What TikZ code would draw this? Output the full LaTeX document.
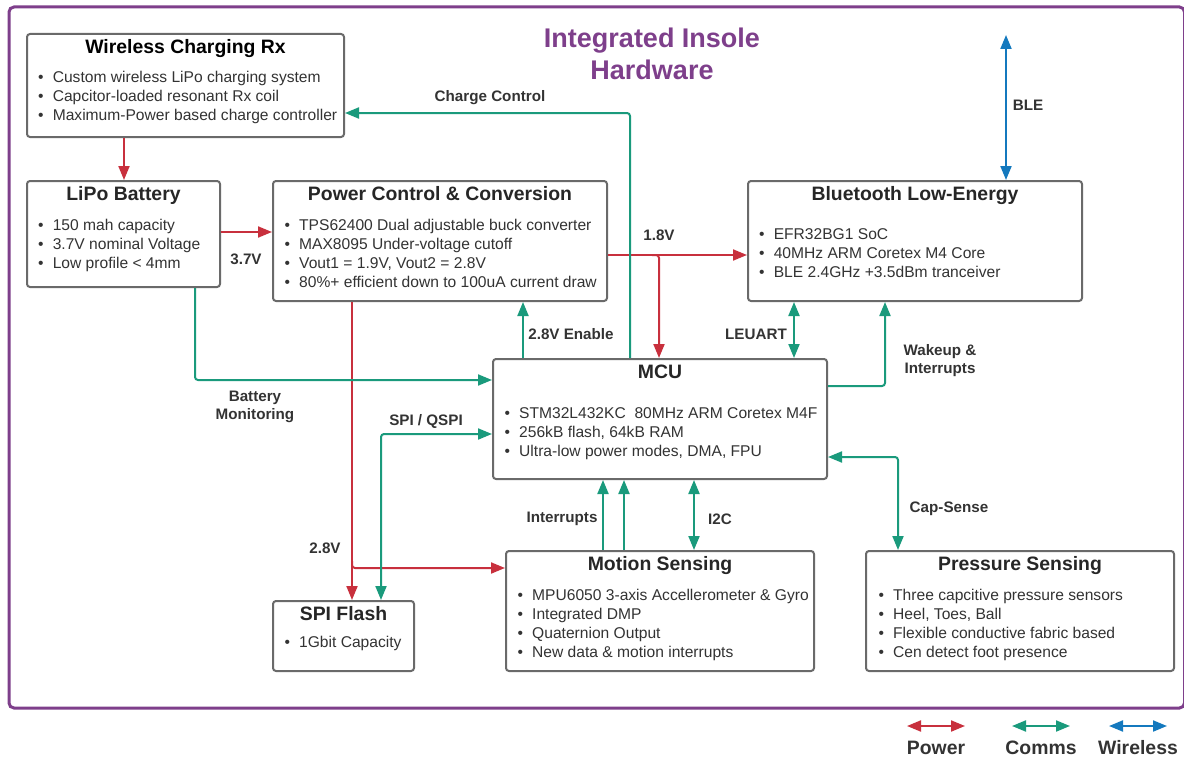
\documentclass[tikz,border=0pt]{standalone}
\usepackage{fontspec}
\setmainfont{Liberation Sans}
\usetikzlibrary{arrows.meta}
\definecolor{pur}{HTML}{7E3F8B}
\definecolor{pred}{HTML}{C8303D}
\definecolor{pgrn}{HTML}{1A9A7C}
\definecolor{pblu}{HTML}{1479BE}
\definecolor{bgray}{HTML}{6A6A6A}
\definecolor{txt}{HTML}{333333}
\definecolor{ttxt}{HTML}{262626}
\tikzset{
  boxn/.style={draw=bgray, line width=2pt, rounded corners=3pt, anchor=north west, inner sep=0pt, fill=white},
  ttl/.style={anchor=base, font=\bfseries\fontsize{19.4}{22}\selectfont, text=ttxt, inner sep=0pt},
  bul/.style={anchor=base west, font=\fontsize{15.6}{18}\selectfont, text=txt, inner sep=0pt},
  lbl/.style={font=\bfseries\fontsize{15.2}{18}\selectfont, text=txt, align=center, inner sep=0pt},
  onetip/.style={-{Triangle[length=14pt,width=11pt]}},
  twotips/.style={{Triangle[length=14pt,width=11pt]}-{Triangle[length=14pt,width=11pt]}},
  pwline/.style={draw=pred, line width=2pt, rounded corners=3pt, onetip},
  cmline/.style={draw=pgrn, line width=2pt, rounded corners=3pt, onetip},
  cmbline/.style={draw=pgrn, line width=2pt, rounded corners=3pt, twotips},
  wlline/.style={draw=pblu, line width=2pt, twotips},
}
\begin{document}
\begin{tikzpicture}[x=1pt,y=-1pt]
\useasboundingbox (0,0) rectangle (1184,760);
% outer frame
\draw[pur, line width=3pt, rounded corners=5pt] (9,7) rectangle (1184.5,708);
% title
\node[font=\bfseries\fontsize{27}{32}\selectfont, text=pur, align=center, inner sep=0pt] (title) at (652,54) {Integrated Insole\\Hardware};

% boxes
\node[boxn, minimum width=317pt, minimum height=103pt] (wcr) at (26,33) {};
\node[boxn, minimum width=193pt, minimum height=106pt] (lipo) at (26,180) {};
\node[boxn, minimum width=334pt, minimum height=120pt] (pcc) at (272,180) {};
\node[boxn, minimum width=334pt, minimum height=120pt] (ble) at (747,180) {};
\node[boxn, minimum width=334pt, minimum height=120pt] (mcu) at (492,358) {};
\node[boxn, minimum width=308pt, minimum height=120pt] (mot) at (505,550) {};
\node[boxn, minimum width=141pt, minimum height=70pt] (spi) at (272,600) {};
\node[boxn, minimum width=308pt, minimum height=120pt] (prs) at (865,550) {};

% titles
\node[ttl, text=black] (wcr-t) at ([yshift=-20.8pt]wcr.north) {Wireless Charging Rx};
\node[ttl] (lipo-t) at ([yshift=-20.8pt]lipo.north) {LiPo Battery};
\node[ttl] (pcc-t) at ([yshift=-20.8pt]pcc.north) {Power Control \& Conversion};
\node[ttl] (ble-t) at ([yshift=-20.8pt]ble.north) {Bluetooth Low-Energy};
\node[ttl] (mcu-t) at ([yshift=-20.8pt]mcu.north) {MCU};
\node[ttl] (mot-t) at ([yshift=-20.8pt]mot.north) {Motion Sensing};
\node[ttl] (spi-t) at ([yshift=-20.8pt]spi.north) {SPI Flash};
\node[ttl] (prs-t) at ([yshift=-20.8pt]prs.north) {Pressure Sensing};

% bullets
\foreach \t [count=\i from 0] in {Custom wireless LiPo charging system, Capcitor-loaded resonant Rx coil, Maximum-Power based charge controller}
  \node[bul] (wcr-\i) at (38, 82.6+19*\i) {\makebox[14.6pt][l]{\textbullet}\t};
\foreach \t [count=\i from 0] in {150 mah capacity, 3.7V nominal Voltage, Low profile < 4mm}
  \node[bul] (lipo-\i) at (38, 230.6+19*\i) {\makebox[14.6pt][l]{\textbullet}\t};
\foreach \t [count=\i from 0] in {TPS62400 Dual adjustable buck converter, MAX8095 Under-voltage cutoff, {Vout1 = 1.9V, Vout2 = 2.8V}, 80\%+ efficient down to 100uA current draw}
  \node[bul] (pcc-\i) at (284.4, 230.6+19*\i) {\makebox[14.6pt][l]{\textbullet}\t};
\foreach \t [count=\i from 0] in {EFR32BG1 SoC, 40MHz ARM Coretex M4 Core, BLE 2.4GHz +3.5dBm tranceiver}
  \node[bul] (ble-\i) at (759, 239.6+19*\i) {\makebox[14.6pt][l]{\textbullet}\t};
\foreach \t [count=\i from 0] in {STM32L432KC\ \ 80MHz ARM Coretex M4F, {256kB flash, 64kB RAM}, {Ultra-low power modes, DMA, FPU}}
  \node[bul] (mcu-\i) at (504.4, 418.6+19*\i) {\makebox[14.6pt][l]{\textbullet}\t};
\foreach \t [count=\i from 0] in {MPU6050 3-axis Accellerometer \& Gyro, Integrated DMP, Quaternion Output, New data \& motion interrupts}
  \node[bul] (mot-\i) at (517.4, 600.6+19*\i) {\makebox[14.6pt][l]{\textbullet}\t};
\node[bul] (spi-0) at (284.4, 647.6) {\makebox[14.6pt][l]{\textbullet}1Gbit Capacity};
\foreach \t [count=\i from 0] in {Three capcitive pressure sensors, {Heel, Toes, Ball}, Flexible conductive fabric based, Cen detect foot presence}
  \node[bul] (prs-\i) at (878.4, 600.6+19*\i) {\makebox[14.6pt][l]{\textbullet}\t};

% power connectors
\draw[pwline] (124,0 |- wcr.south) -- (124,0 |- lipo.north);
\draw[pwline] (lipo.east |- 0,232) -- (pcc.west |- 0,232);
\draw[pwline] (pcc.east |- 0,255) -- (ble.west |- 0,255);
\coordinate (j18) at (652,255);
\draw[pwline] (j18) -- (659,255) -- (659,0 |- mcu.north);
\draw[pwline] (352,0 |- pcc.south) -- (352,0 |- spi.north);
\coordinate (j28) at (352,561);
\draw[pwline] (j28) -- (352,568) -- (mot.west |- 0,568);

% comms connectors
\draw[cmline] (630,0 |- mcu.north) -- (630,113) -- (wcr.east |- 0,113);
\draw[cmline] (523,0 |- mcu.north) -- (523,0 |- pcc.south);
\draw[cmline] (195,0 |- lipo.south) -- (195,380) -- (mcu.west |- 0,380);
\draw[cmbline] (381,0 |- spi.north) -- (381,434) -- (mcu.west |- 0,434);
\draw[cmbline] (794,0 |- ble.south) -- (794,0 |- mcu.north);
\draw[cmline] (mcu.east |- 0,386) -- (885,386) -- (885,0 |- ble.south);
\draw[cmbline] (mcu.east |- 0,457) -- (898,457) -- (898,0 |- prs.north);
\draw[cmline] (603,0 |- mot.north) -- (603,0 |- mcu.south);
\draw[cmline] (624,0 |- mot.north) -- (624,0 |- mcu.south);
\draw[cmbline] (694,0 |- mot.north) -- (694,0 |- mcu.south);

% wireless
\coordinate (air) at (1006,35);
\draw[wlline] (1006,0 |- ble.north) -- (air);

% labels
\node[lbl] (l-cc) at (490,98) {Charge Control};
\node[lbl] (l-37) at (246,259) {3.7V};
\node[lbl] (l-18) at (659,235) {1.8V};
\node[lbl] (l-en) at (571,334) {2.8V Enable};
\node[lbl] (l-le) at (756,334) {LEUART};
\node[lbl] (l-wk) at (940,361) {Wakeup \&\\Interrupts};
\node[lbl] (l-bm) at (255,407) {Battery\\Monitoring};
\node[lbl] (l-spi) at (426,421) {SPI / QSPI};
\node[lbl] (l-28) at (325,548) {2.8V};
\node[lbl] (l-int) at (562,519) {Interrupts};
\node[lbl] (l-i2c) at (720,519) {I2C};
\node[lbl] (l-cap) at (949,509) {Cap-Sense};
\node[lbl] (l-ble) at (1028,105) {BLE};

% legend
\coordinate (lp1) at (907,726); \coordinate (lp2) at (965,726);
\coordinate (lc1) at (1012,726); \coordinate (lc2) at (1070,726);
\coordinate (lw1) at (1109,726); \coordinate (lw2) at (1167,726);
\draw[draw=pred, line width=2pt, twotips] (lp1) -- (lp2);
\draw[draw=pgrn, line width=2pt, twotips] (lc1) -- (lc2);
\draw[draw=pblu, line width=2pt, twotips] (lw1) -- (lw2);
\node[lbl, font=\bfseries\fontsize{19.4}{22}\selectfont] (lg-p) at (936,748) {Power};
\node[lbl, font=\bfseries\fontsize{19.4}{22}\selectfont] (lg-c) at (1041,748) {Comms};
\node[lbl, font=\bfseries\fontsize{19.4}{22}\selectfont] (lg-w) at (1138,748) {Wireless};
\end{tikzpicture}
\end{document}
